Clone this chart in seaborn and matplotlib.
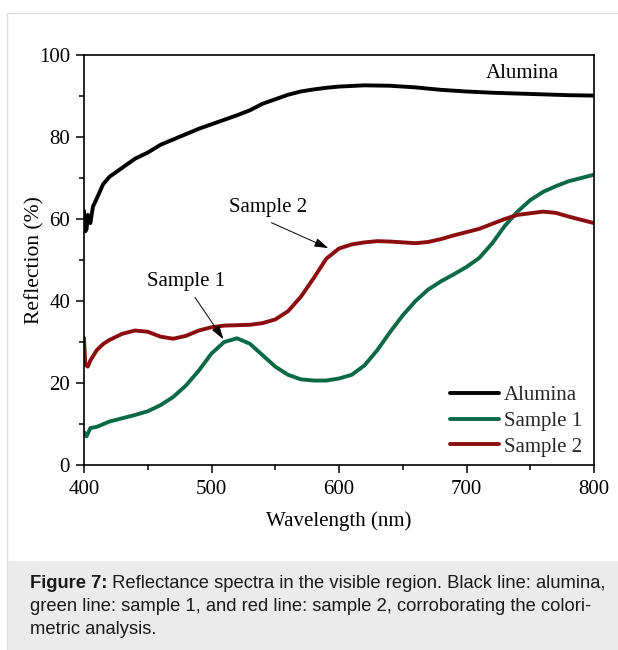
import numpy as np
import pandas as pd
import matplotlib
matplotlib.use("Agg")
import matplotlib.pyplot as plt
from matplotlib.patches import Rectangle
from matplotlib.lines import Line2D
from matplotlib.ticker import MultipleLocator
import seaborn as sns

# ---- data ----
alumina_nm = [400, 401, 402, 403, 405, 407, 410, 415, 420, 430, 440, 450, 460, 470, 480, 490,
              500, 510, 520, 530, 540, 550, 560, 570, 580, 590, 600, 620, 640, 660, 680, 700,
              720, 740, 760, 780, 800]
alumina_r = [62, 57, 57.5, 61, 59, 63, 65, 68.5, 70.3, 72.5, 74.7, 76.2, 78.1, 79.4, 80.7, 82,
             83.1, 84.2, 85.3, 86.5, 88.1, 89.2, 90.3, 91.1, 91.6, 92, 92.3, 92.6, 92.5, 92.1,
             91.5, 91.1, 90.8, 90.6, 90.4, 90.2, 90.1]

s1_nm = [400, 402, 405, 410, 420, 430, 440, 450, 460, 470, 480, 490, 500, 510, 520, 530, 540,
         550, 560, 570, 580, 590, 600, 610, 620, 630, 640, 650, 660, 670, 680, 690, 700, 710,
         720, 730, 740, 750, 760, 770, 780, 790, 800]
s1_r = [8, 7, 9, 9.3, 10.6, 11.4, 12.2, 13.1, 14.6, 16.6, 19.4, 23, 27.2, 30, 30.9, 29.6, 26.8,
        24, 22, 20.9, 20.6, 20.6, 21.1, 22, 24.3, 28, 32.4, 36.5, 40, 42.8, 44.8, 46.5, 48.3,
        50.5, 54, 58.3, 61.8, 64.6, 66.6, 68, 69.2, 70, 70.8]

s2_nm = [400, 401, 403, 405, 410, 415, 420, 430, 440, 450, 460, 470, 480, 490, 500, 510, 520,
         530, 540, 550, 560, 570, 580, 590, 600, 610, 620, 630, 640, 650, 660, 670, 680, 690,
         700, 710, 720, 730, 740, 750, 760, 770, 780, 790, 800]
s2_r = [31, 24.5, 24, 25.5, 28, 29.5, 30.5, 32, 32.8, 32.5, 31.3, 30.8, 31.5, 32.8, 33.6, 34,
        34.1, 34.2, 34.6, 35.5, 37.5, 41, 45.5, 50.3, 52.8, 53.8, 54.3, 54.6, 54.5, 54.3, 54.1,
        54.4, 55.1, 56, 56.8, 57.6, 58.8, 60, 61, 61.4, 61.8, 61.5, 60.6, 59.8, 59]

series_names = ["Alumina", "Sample 1", "Sample 2"]
series_colors = ["#000000", "#0b6a45", "#8b0d0d"]
x_ticks = [400, 500, 600, 700, 800]
y_ticks = [0, 20, 40, 60, 80, 100]

# ---- style ----
sns.set_theme(style="ticks")
plt.rcParams["font.family"] = ["Liberation Serif", "DejaVu Serif"]

fig = plt.figure(figsize=(6.18, 6.5), dpi=100)
fig.patch.set_facecolor("white")

# outer frame and caption band
fig.patches.append(Rectangle((7 / 618, -0.01), 1.2, 1 - 13 / 650 + 0.01,
                             transform=fig.transFigure, facecolor="none",
                             edgecolor="#dcdcdc", linewidth=1.0, zorder=0))
fig.patches.append(Rectangle((8 / 618, 0), 1, 1 - 561 / 650, transform=fig.transFigure,
                             facecolor="#ebebeb", edgecolor="none", zorder=0))

ax = fig.add_axes([84 / 618, 1 - 465 / 650, 510 / 618, 410 / 650])

frames = []
for name, xs, ys in zip(series_names, [alumina_nm, s1_nm, s2_nm], [alumina_r, s1_r, s2_r]):
    frames.append(pd.DataFrame({"Wavelength": xs, "Reflection": ys, "Series": name}))
df = pd.concat(frames, ignore_index=True)

sns.lineplot(data=df, x="Wavelength", y="Reflection", hue="Series", hue_order=series_names,
             palette=series_colors, linewidth=2.8, ax=ax, legend=False, sort=True)

ax.set_xlim(400, 800)
ax.set_ylim(0, 100)
ax.set_xticks(x_ticks)
ax.set_yticks(y_ticks)
ax.xaxis.set_minor_locator(MultipleLocator(50))
ax.yaxis.set_minor_locator(MultipleLocator(10))
ax.tick_params(axis="both", which="major", direction="out", length=6, width=1.1,
               labelsize=15, pad=4, color="black", labelcolor="black")
ax.tick_params(axis="x", which="major", pad=5)
ax.tick_params(axis="both", which="minor", direction="out", length=3.5, width=1.1,
               color="black")
ax.tick_params(top=False, right=False, which="both")
for sp in ax.spines.values():
    sp.set_visible(True)
    sp.set_color("black")
    sp.set_linewidth(1.2)

ax.set_xlabel("Wavelength (nm)", fontsize=15, labelpad=8.5, color="black")
ax.set_ylabel("Reflection (%)", fontsize=15.5, labelpad=-4, color="black")

# legend
handles = [Line2D([0], [0], color=c, lw=2.8) for c in series_colors]
ax.legend(handles, series_names, loc="lower right", bbox_to_anchor=(0.985, 0.01),
          frameon=False, fontsize=15, handlelength=2.35, handletextpad=0.25,
          labelspacing=0.3, borderpad=0.2, borderaxespad=0)

# annotations
ax.text(744, 95.4, "Alumina", fontsize=15, ha="center", va="center", color="black")
ax.annotate("", xy=(591.6, 52.9), xytext=(547, 59.1),
            arrowprops=dict(arrowstyle="-|>,head_length=0.7,head_width=0.22", color="black",
                            lw=0.7, shrinkA=0, shrinkB=0))
ax.text(544.3, 62.9, "Sample 2", fontsize=15, ha="center", va="center", color="black")
ax.annotate("", xy=(509.3, 30.7), xytext=(487, 40.9),
            arrowprops=dict(arrowstyle="-|>,head_length=0.7,head_width=0.22", color="black",
                            lw=0.7, shrinkA=0, shrinkB=0))
ax.text(479.8, 44.7, "Sample 1", fontsize=15, ha="center", va="center", color="black")

# caption
cap_font = ["Liberation Sans", "DejaVu Sans"]
cap_size = 13.2
lines = [
    ("Figure 7:", " Reflectance spectra in the visible region. Black line: alumina,"),
    (None, "green line: sample 1, and red line: sample 2, corroborating the colori-"),
    (None, "metric analysis."),
]
ys_fig = [1 - 583 / 650, 1 - 606.5 / 650, 1 - 630 / 650]
x0 = 30 / 618
fig.canvas.draw()
renderer = fig.canvas.get_renderer()
for (bold, rest), yf in zip(lines, ys_fig):
    x = x0
    if bold:
        t = fig.text(x, yf, bold, family=cap_font, fontsize=cap_size, fontweight="bold",
                     ha="left", va="center", color="#1a1a1a")
        bb = t.get_window_extent(renderer=renderer)
        x = bb.x1 / fig.bbox.width
    fig.text(x, yf, rest, family=cap_font, fontsize=cap_size, ha="left", va="center",
             color="#1a1a1a")

fig.savefig("out.png", dpi=100)
